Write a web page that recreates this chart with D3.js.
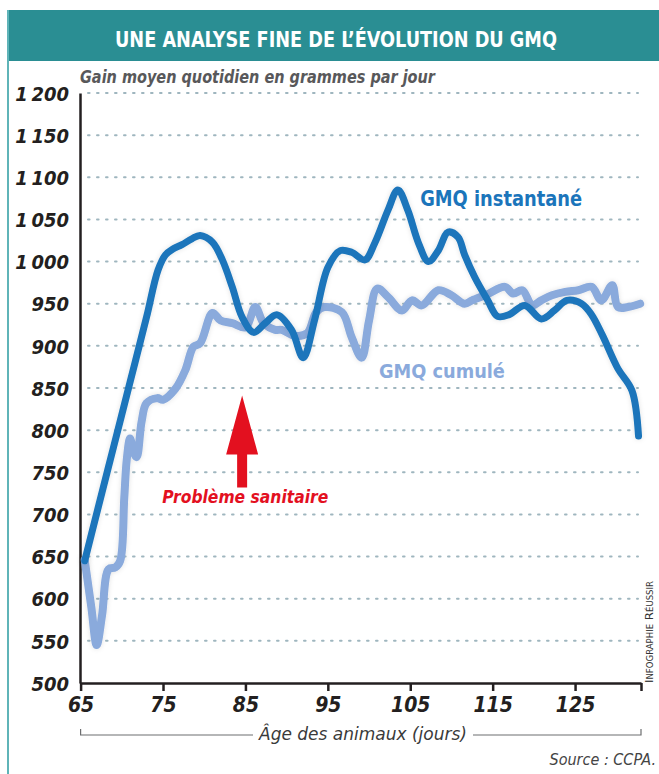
<!DOCTYPE html>
<html>
<head>
<meta charset="utf-8">
<script src="https://cdn.jsdelivr.net/npm/d3@7"></script>
<style>
  body { margin: 0; background: #fff; }
  svg { display: block; font-family: "DejaVu Sans Condensed", "DejaVu Sans", sans-serif; font-stretch: condensed; }
</style>
</head>
<body>
<div id="chart"></div>
<script>
const WIDTH = 659;
const HEIGHT = 774;

// GMQ instantané (day, g/day)
const instDays = [65.5, 67, 69, 71, 73, 74.4, 75.3, 76.2, 77.3, 78.5, 79.5, 81, 82.2, 83.4, 84.6, 86, 87.4, 88.8, 90.6, 92, 93.4, 95, 96.5, 97.9, 99.5, 100.7, 102.3, 103.5, 104.7, 106, 107.2, 108.4, 109.6, 110.8, 111.6, 112.8, 114.4, 115.6, 117, 118.9, 120.9, 122.5, 124, 125.8, 127, 128.3, 130.2, 131.9, 132.7];
const instValues = [645, 703, 780, 857, 934, 990, 1008, 1015, 1020, 1027, 1031, 1023, 1002, 970, 934, 916, 927, 937, 919, 886, 931, 993, 1013, 1011, 1002, 1022, 1061, 1085, 1061, 1022, 1000, 1013, 1035, 1029, 1008, 982, 954, 935, 937, 948, 932, 942, 954, 950, 937, 913, 873, 847, 793];

// GMQ cumulé
const cumDays = [65.5, 66.3, 66.95, 67.6, 68.4, 69.2, 69.8, 70.3, 70.6, 71, 71.4, 71.8, 72.4, 73, 74.3, 75, 76.5, 77.7, 78.7, 79.5, 81, 82, 83.4, 85, 86.2, 87.2, 88.6, 89.4, 91, 92.5, 93.6, 94.6, 96.7, 97.9, 99.1, 100, 101, 102.3, 104, 105.2, 106.4, 108.4, 110, 111.6, 112.5, 114.3, 116.5, 117.5, 118.6, 119.8, 120.9, 122.2, 123.8, 125.4, 127, 128.2, 129.5, 130.2, 131.4, 132.9];
const cumValues = [646, 590, 545, 580, 635, 637, 645, 720, 765, 790, 775, 768, 810, 832, 838, 836, 849, 871, 899, 903, 939, 930, 927, 922, 946, 927, 919, 919, 912, 915, 940, 946, 940, 910, 886, 930, 968, 958, 942, 954, 948, 966, 960, 950, 954, 961, 970, 962, 966, 948, 954, 960, 964, 966, 970, 954, 972, 946, 946, 950];

const yTicks = [500, 550, 600, 650, 700, 750, 800, 850, 900, 950, 1000, 1050, 1100, 1150, 1200];
const xTicks = [65, 75, 85, 95, 105, 115, 125, 133];
const xLabels = ["65", "75", "85", "95", "105", "115", "125", ""];

const arrowDay = 84.6, arrowFrom = 732, arrowTo = 841;

const teal = "#2a8e93";
const darkBlue = "#1b75bb";
const lightBlue = "#8aaadc";
const red = "#e3101f";

const svg = d3.select("#chart").append("svg")
  .attr("width", WIDTH)
  .attr("height", HEIGHT);

const defs = svg.append("defs");
const glow = defs.append("filter").attr("id", "glow")
  .attr("x", "-10%").attr("y", "-10%").attr("width", "120%").attr("height", "120%");
glow.append("feDropShadow")
  .attr("dx", 0).attr("dy", 0).attr("stdDeviation", 2.5)
  .attr("flood-color", "#000").attr("flood-opacity", 0.12);

// frame and title
svg.append("rect").attr("x", 7).attr("y", 10).attr("width", WIDTH - 7).attr("height", 51).attr("fill", teal);
svg.append("line").attr("x1", 8).attr("x2", 8).attr("y1", 10).attr("y2", HEIGHT)
  .attr("stroke", "#5fb4b8").attr("stroke-width", 2);
svg.append("text")
  .attr("x", 336).attr("y", 47)
  .attr("text-anchor", "middle")
  .attr("fill", "#fff")
  .attr("font-size", 21).attr("font-weight", "bold")
  .attr("textLength", 442).attr("lengthAdjust", "spacingAndGlyphs")
  .text("UNE ANALYSE FINE DE L’ÉVOLUTION DU GMQ");

svg.append("text")
  .attr("x", 80).attr("y", 83)
  .attr("fill", "#58585a")
  .attr("font-size", 17).attr("font-weight", "bold").attr("font-style", "italic")
  .attr("textLength", 355).attr("lengthAdjust", "spacingAndGlyphs")
  .text("Gain moyen quotidien en grammes par jour");

const x = d3.scaleLinear().domain([65, 133]).range([80.6, 641]);
const y = d3.scaleLinear().domain([500, 1200]).range([683, 93]);

// dotted grid
svg.append("g").selectAll("line")
  .data(yTicks.filter(d => d > 500))
  .join("line")
  .attr("x1", 88).attr("x2", 638)
  .attr("y1", d => y(d)).attr("y2", d => y(d))
  .attr("stroke", "#9fb6bf").attr("stroke-width", 2)
  .attr("stroke-dasharray", "1.6,7.4").attr("stroke-linecap", "round");

// y axis
const yAxis = d3.axisLeft(y).tickValues(yTicks).tickSize(0).tickPadding(11)
  .tickFormat(d => d3.format(",")(d).replace(",", "\u2009"));
const gy = svg.append("g").attr("transform", "translate(80,0)").call(yAxis);
gy.select(".domain").attr("stroke", "#231f20").attr("stroke-width", 2.5);
gy.selectAll("text")
  .attr("fill", "#231f20").attr("font-size", 20).attr("font-style", "italic").attr("font-weight", "bold")
  .attr("font-family", "\"DejaVu Sans Condensed\", sans-serif").attr("dy", "0.36em");

// x axis
const xAxis = d3.axisBottom(x).tickValues(xTicks).tickSize(8).tickPadding(6)
  .tickFormat((d, i) => xLabels[i]).tickSizeOuter(0);
const gx = svg.append("g").attr("transform", "translate(0,683)").call(xAxis);
gx.select(".domain").attr("stroke", "#231f20").attr("stroke-width", 2.5);
gx.selectAll(".tick line").attr("stroke", "#231f20").attr("stroke-width", 2.5);
gx.selectAll("text")
  .attr("fill", "#231f20").attr("font-size", 21).attr("font-style", "italic").attr("font-weight", "bold")
  .attr("font-family", "\"DejaVu Sans Condensed\", sans-serif");

// x axis title with bracket
const titleX = 363;
const axisTitle = svg.append("text")
  .attr("x", titleX).attr("y", 740)
  .attr("text-anchor", "middle")
  .attr("fill", "#3a3a3a")
  .attr("font-size", 18).attr("font-style", "italic")
  .attr("textLength", 208).attr("lengthAdjust", "spacingAndGlyphs")
  .text("Âge des animaux (jours)");
const bracket = svg.append("g").attr("stroke", "#6d6e70").attr("stroke-width", 1.2).attr("fill", "none");
bracket.append("path").attr("d", `M${x(65)},729V735H${titleX - 110}`);
bracket.append("path").attr("d", `M${titleX + 110},735H${x(133)}V729`);

svg.append("text")
  .attr("x", 656).attr("y", 765)
  .attr("text-anchor", "end")
  .attr("fill", "#444")
  .attr("font-size", 16).attr("font-style", "italic")
  .text("Source : CCPA.");

svg.append("text")
  .attr("transform", "translate(653,683) rotate(-90)")
  .attr("fill", "#333")
  .attr("font-size", 11)
  .attr("font-variant", "small-caps")
  .attr("font-family", "\"DejaVu Sans\", sans-serif")
  .attr("textLength", 102).attr("lengthAdjust", "spacingAndGlyphs")
  .text("Infographie Réussir");

// lines
const line = d3.line().x(d => x(d[0])).y(d => y(d[1])).curve(d3.curveCatmullRom.alpha(0.5));
const cum = d3.zip(cumDays, cumValues);
const inst = d3.zip(instDays, instValues);

svg.append("path").datum(cum)
  .attr("d", line).attr("fill", "none")
  .attr("stroke", lightBlue).attr("stroke-width", 8)
  .attr("stroke-linecap", "round").attr("stroke-linejoin", "round")
  .attr("filter", "url(#glow)");
svg.append("path").datum(inst)
  .attr("d", line).attr("fill", "none")
  .attr("stroke", darkBlue).attr("stroke-width", 7)
  .attr("stroke-linecap", "round").attr("stroke-linejoin", "round")
  .attr("filter", "url(#glow)");

// labels
svg.append("text")
  .attr("x", x(106.2)).attr("y", y(1066))
  .attr("fill", darkBlue).attr("font-size", 21).attr("font-weight", "bold")
  .attr("textLength", 162).attr("lengthAdjust", "spacingAndGlyphs")
  .text("GMQ instantané");
svg.append("text")
  .attr("x", x(101.2)).attr("y", y(862))
  .attr("fill", lightBlue).attr("font-size", 20).attr("font-weight", "bold")
  .attr("textLength", 126).attr("lengthAdjust", "spacingAndGlyphs")
  .text("GMQ cumulé");

// health problem arrow
const ax = x(arrowDay);
const headBase = y(arrowTo) + 59;
svg.append("path")
  .attr("d", `M${ax},${y(arrowTo)}L${ax + 16},${headBase}H${ax + 5}V${y(arrowFrom)}H${ax - 5}V${headBase}H${ax - 16}Z`)
  .attr("fill", red);
svg.append("text")
  .attr("x", x(74.9)).attr("y", y(713.5))
  .attr("fill", red).attr("font-size", 18).attr("font-weight", "bold").attr("font-style", "italic")
  .attr("textLength", 166).attr("lengthAdjust", "spacingAndGlyphs")
  .text("Problème sanitaire");
</script>
</body>
</html>
